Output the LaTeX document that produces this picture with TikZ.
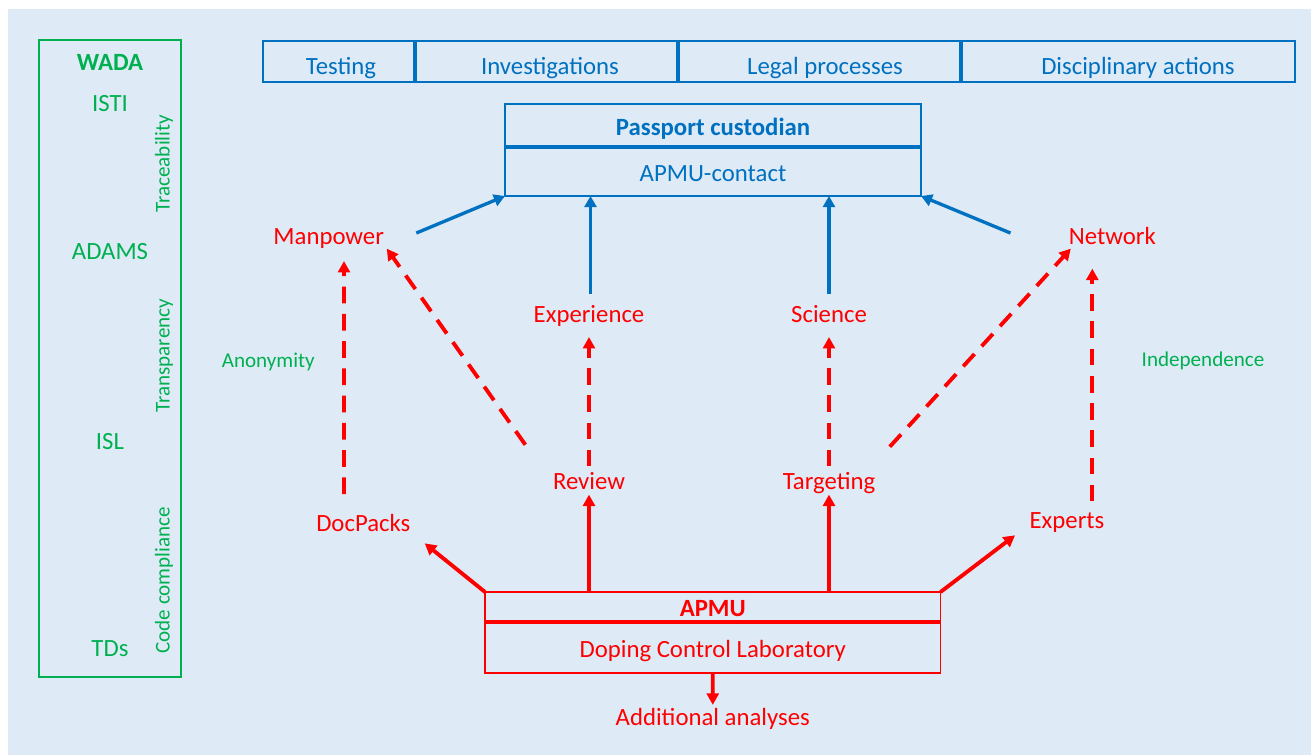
\documentclass[tikz,border=0pt]{standalone}
\usepackage{fontspec}
\setmainfont{Carlito}
\usetikzlibrary{arrows.meta,calc}

\definecolor{bgblue}{HTML}{DEEBF7}
\definecolor{apmured}{HTML}{FF0000}
\definecolor{custblue}{HTML}{0070C0}
\definecolor{wadagreen}{HTML}{00B050}

\newcommand{\bigtext}{\fontsize{14.1}{16}\selectfont}
\newcommand{\smalltext}{\fontsize{12}{14}\selectfont}

\tikzset{
	lbl/.style={inner sep=0pt, anchor=base, font=\bigtext, text height=9pt, text depth=3pt},
	redlbl/.style={lbl, text=apmured},
	bluelbl/.style={lbl, text=custblue},
	greenlbl/.style={lbl, text=wadagreen},
	greensmall/.style={greenlbl, font=\smalltext},
	cellbox/.style={draw, line width=1.1pt, inner sep=0pt, outer sep=0pt, anchor=north west,
		font=\bigtext, text height=11pt, text depth=0pt},
	bluearrow/.style={custblue, line width=1.9pt, -{Triangle[length=6.3pt,width=6.8pt]}},
	redarrow/.style={apmured, line width=2.2pt, -{Triangle[length=6.5pt,width=6.8pt]}},
	dasharrow/.style={redarrow, dash pattern=on 9.5pt off 6pt}
}

\begin{document}
\begin{tikzpicture}[x=0.02cm,y=-0.02cm]

		\fill[white] (0,0) rectangle (1311,755);
		\fill[bgblue] (8,9) rectangle (1311,755);
		\useasboundingbox (0,0) rectangle (1311,755);

		\draw[wadagreen, line width=1.1pt] (39,40) rectangle (181,677);
		\foreach \y/\t/\n in {70.7/\textbf{WADA}/wada, 111/ISTI/isti, 259.3/ADAMS/adams, 449.3/ISL/isl, 656.7/TDs/tds}
			\node[greenlbl] (\n) at (110,\y) {\t};
		\foreach \y/\t/\n in {163.7/Traceability/trace, 355.7/Transparency/transp, 580.3/Code compliance/codecomp}
			\node[greensmall, rotate=90] (\n) at (169.5,\y) {\t};

		\draw[custblue, line width=1.1pt] (263,41) rectangle (1295,82);
		\foreach \x in {415,678,961}
			\draw[custblue, line width=1.8pt] (\x,41) -- (\x,82);
		\foreach \x/\t/\n in {341/Testing/testing, 550/Investigations/invest, 825/Legal processes/legal, 1138/Disciplinary actions/disc}
			\node[bluelbl] (\n) at (\x,74) {\t};

		\node[cellbox, custblue, minimum width=416*0.02cm, minimum height=43*0.02cm] (custodian) at (505,104) {\textbf{Passport custodian}};
		\node[cellbox, custblue, minimum width=416*0.02cm, minimum height=49*0.02cm] (contact) at (505,147) {APMU-contact};
		\draw[custblue, line width=2.2pt] (custodian.south west) -- (custodian.south east);

		\node[cellbox, apmured, minimum width=455.5*0.02cm, minimum height=30*0.02cm] (apmu) at (485,592) {\textbf{APMU}};
		\node[cellbox, apmured, minimum width=455.5*0.02cm, minimum height=51*0.02cm] (lab) at (485,622) {Doping Control Laboratory};
		\draw[apmured, line width=2.2pt] (apmu.south west) -- (apmu.south east);

		\node[redlbl] (manpower) at (328.7,244.3) {Manpower};
		\node[redlbl] (network) at (1112.3,244.3) {Network};
		\node[redlbl] (experience) at (589,322.7) {Experience};
		\node[redlbl] (science) at (829,322.7) {Science};
		\node[redlbl] (review) at (589,489) {Review};
		\node[redlbl] (targeting) at (829,489) {Targeting};
		\node[redlbl] (docpacks) at (363.3,531.7) {DocPacks};
		\node[redlbl] (experts) at (1067,528.3) {Experts};
		\node[redlbl] (additional) at (712.8,725) {Additional analyses};
		\node[greensmall] (anonymity) at (268.3,367.3) {Anonymity};
		\node[greensmall] (independence) at (1203,366.7) {Independence};

		\draw[bluearrow] ($(manpower.east)+(32,-6)$) -- (contact.south west);
		\draw[bluearrow] ($(experience.north)+(1.5,-13)$) -- ($(experience |- contact.south)+(1.5,0)$);
		\draw[bluearrow] ($(science.north)+(0,-13)$) -- (science |- contact.south);
		\draw[bluearrow] ($(network.west)+(-58,-6)$) -- (contact.south east);

		\draw[dasharrow] ($(docpacks.north)+(-19.3,-21.5)$) -- ($(manpower.south)+(15.3,11.1)$);
		\draw[dasharrow] ($(review.north west)+(-27.3,-28.1)$) -- ($(manpower.south east)+(2.5,-1.3)$);
		\draw[dasharrow] ($(review.north)+(0,-6.4)$) -- ($(experience.south)+(0,8.7)$);
		\draw[dasharrow] ($(targeting.north)+(0,-6.4)$) -- ($(science.south)+(0,8.7)$);
		\draw[dasharrow] ($(targeting.north east)+(14.2,-26.1)$) -- ($(network.south west)+(2.3,-1.3)$);
		\draw[dasharrow] ($(experts.north)+(25.3,-10.7)$) -- ($(network.south)+(-20,18.7)$);

		\draw[redarrow] (apmu.north west) -- ($(docpacks.south east)+(14,6)$);
		\draw[redarrow] (review |- apmu.north) -- (review.south);
		\draw[redarrow] (targeting |- apmu.north) -- (targeting.south);
		\draw[redarrow] (apmu.north east) -- ($(experts.south west)+(-14.2,1.4)$);
		\draw[redarrow] (lab.south) -- ($(additional.north)+(0,-4)$);

		\end{tikzpicture}
\end{document}
